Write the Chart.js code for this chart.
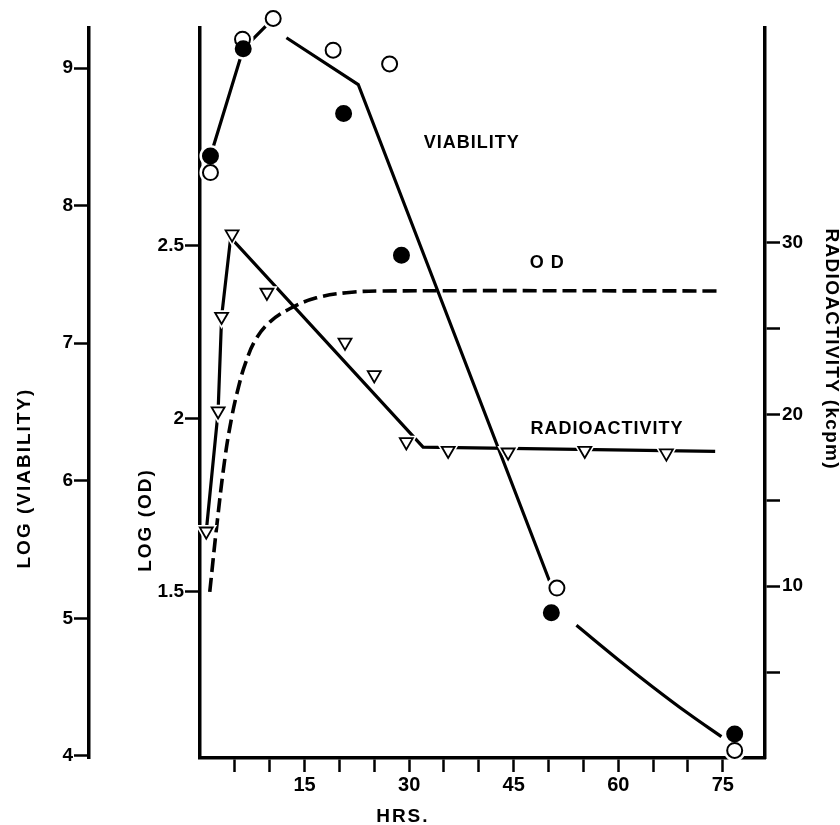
<!DOCTYPE html>
<html>
<head>
<meta charset="utf-8">
<title>Viability, OD and radioactivity vs time</title>
<script src="https://cdn.jsdelivr.net/npm/chart.js@4.4.1/dist/chart.umd.min.js"></script>
<style>
  html, body { margin: 0; padding: 0; background: #fff; }
  canvas { display: block; }
</style>
</head>
<body>
<canvas id="growthChart" width="840" height="825"></canvas>
<script>
// viability (log), two platings per sampling time
const viabFilledHrs = [1.5, 6.2, 20.6, 28.9, 50.4, 76.7];
const viabFilled = [8.36, 9.14, 8.67, 7.64, 5.04, 4.16];
const viabOpenHrs = [1.5, 6.1, 10.5, 19.1, 27.2, 51.2, 76.7];
const viabOpen = [8.24, 9.21, 9.36, 9.13, 9.03, 5.22, 4.04];
// hand drawn viability curve (null = break in the line)
const viabCurveHrs = [1.5, 6.2, 10.5, 11.5, 12.4, 22.7, 50.3];
const viabCurve = [8.36, 9.14, 9.36, null, 9.22, 8.88, 5.25];
const viabTailHrs = [54.0, 60.0, 65.0, 70.0, 74.8];
const viabTail = [4.95, 4.70, 4.50, 4.31, 4.14];

// radioactivity (kcpm)
const radioHrs = [0.9, 2.6, 3.1, 4.6, 9.6, 20.8, 25.0, 29.6, 35.6, 44.2, 55.2, 66.9];
const radioKcpm = [13.2, 20.2, 25.7, 30.5, 27.1, 24.2, 22.3, 18.4, 17.9, 17.8, 17.9, 17.75];
const radioCurveHrs = [0.9, 2.6, 3.1, 4.4, 32.0, 73.9];
const radioCurve = [13.2, 20.2, 25.7, 30.3, 18.1, 17.85];

// log OD curve (dashed)
const odHrs = [1.4, 2.4, 3.6, 4.6, 5.5, 6.5, 8.0, 10.0, 13.0, 16.7, 21.0, 26.0, 74.4];
const odLog = [1.50, 1.69, 1.89, 2.01, 2.09, 2.16, 2.23, 2.28, 2.32, 2.35, 2.365, 2.37, 2.37];

// axis ticks
const hrTicks = [5, 10, 15, 20, 25, 30, 35, 40, 45, 50, 55, 60, 65, 70, 75];
const viabTicks = [4, 5, 6, 7, 8, 9];
const odTicks = [1.5, 2, 2.5];
const radioTicks = [5, 10, 15, 20, 25, 30];

// labels written next to the curves
const curveNotes = [
  { text: 'VIABILITY', hrs: 39.0, axis: 'yV', value: 8.455 },
  { text: 'O D', hrs: 49.8, axis: 'yOD', value: 2.451 },
  { text: 'RADIOACTIVITY', hrs: 58.4, axis: 'yR', value: 19.17 }
];

const pts = (xs, ys) => xs.map((x, i) => ({ x: x, y: ys[i] }));
const INK = '#000';
const FONT = "'Liberation Sans', Arial, Helvetica, sans-serif";
Chart.defaults.font.family = FONT;
Chart.defaults.color = INK;

const setTicks = list => scale => { scale.ticks = list.map(v => ({ value: v })); };

const textLayer = {
  id: 'textLayer',
  afterDraw(chart) {
    const { ctx, scales } = chart;
    ctx.save();
    ctx.fillStyle = INK;
    ctx.textAlign = 'center';
    ctx.textBaseline = 'middle';
    ctx.font = 'bold 18px ' + FONT;
    ctx.letterSpacing = '1px';
    curveNotes.forEach(n => {
      ctx.fillText(n.text, scales.x.getPixelForValue(n.hrs), scales[n.axis].getPixelForValue(n.value));
    });

    ctx.font = 'bold 19px ' + FONT;
    ctx.letterSpacing = '2px';
    // left titles
    ctx.save();
    ctx.translate(scales.yV.left + 25, scales.yV.getPixelForValue(6.02));
    ctx.rotate(-Math.PI / 2);
    ctx.fillText('LOG (VIABILITY)', 0, 0);
    ctx.restore();

    ctx.save();
    ctx.translate(scales.yOD.left + 57, scales.yOD.getPixelForValue(1.708));
    ctx.rotate(-Math.PI / 2);
    ctx.fillText('LOG (OD)', 0, 0);
    ctx.restore();

    // right title
    ctx.letterSpacing = '1.3px';
    ctx.save();
    ctx.translate(scales.yR.left + 66, scales.yR.getPixelForValue(23.8));
    ctx.rotate(Math.PI / 2);
    ctx.fillText('RADIOACTIVITY (kcpm)', 0, 0);
    ctx.restore();

    // x title
    ctx.letterSpacing = '2px';
    ctx.fillText('HRS.', scales.x.getPixelForValue(29.1), scales.x.top + 59);
    ctx.restore();
  }
};

const axisBorder = { display: true, color: INK, width: 3.5 };
const tickGrid = len => ({ drawOnChartArea: false, drawTicks: true, tickLength: len, tickWidth: 2.5, tickColor: INK });
const tickFont = { size: 19, weight: 'bold' };

const ctx = document.getElementById('growthChart').getContext('2d');
const growthChart = new Chart(ctx, {
  type: 'line',
  data: {
    datasets: [
      // markers on top
      {
        label: 'Viability (filled)',
        data: pts(viabFilledHrs, viabFilled),
        yAxisID: 'yV', showLine: false, order: 0, clip: false,
        pointStyle: 'circle', pointRadius: 7.5, pointBorderWidth: 2,
        pointBackgroundColor: INK, pointBorderColor: INK
      },
      {
        label: 'Viability (open)',
        data: pts(viabOpenHrs, viabOpen),
        yAxisID: 'yV', showLine: false, order: 0, clip: false,
        pointStyle: 'circle', pointRadius: 7.5, pointBorderWidth: 2,
        pointBackgroundColor: '#fff', pointBorderColor: INK
      },
      {
        label: 'Radioactivity',
        data: pts(radioHrs, radioKcpm),
        yAxisID: 'yR', showLine: false, order: 0, clip: false,
        pointStyle: 'triangle', pointRotation: 180, pointRadius: 7.5, pointBorderWidth: 1.8,
        pointBackgroundColor: '#fff', pointBorderColor: INK
      },
      // white halos that break the curves around the markers
      {
        label: 'halo V1',
        data: pts(viabFilledHrs, viabFilled),
        yAxisID: 'yV', showLine: false, order: 1, clip: false,
        pointStyle: 'circle', pointRadius: 7.5, pointBorderWidth: 7,
        pointBackgroundColor: '#fff', pointBorderColor: '#fff'
      },
      {
        label: 'halo V2',
        data: pts(viabOpenHrs, viabOpen),
        yAxisID: 'yV', showLine: false, order: 1, clip: false,
        pointStyle: 'circle', pointRadius: 7.5, pointBorderWidth: 7,
        pointBackgroundColor: '#fff', pointBorderColor: '#fff'
      },
      {
        label: 'halo R',
        data: pts(radioHrs, radioKcpm),
        yAxisID: 'yR', showLine: false, order: 1, clip: false,
        pointStyle: 'triangle', pointRotation: 180, pointRadius: 7.5, pointBorderWidth: 5,
        pointBackgroundColor: '#fff', pointBorderColor: '#fff'
      },
      // curves
      {
        label: 'Viability curve',
        data: pts(viabCurveHrs, viabCurve),
        yAxisID: 'yV', order: 2, clip: false, spanGaps: false,
        borderColor: INK, borderWidth: 3.2, pointRadius: 0, tension: 0
      },
      {
        label: 'Viability tail',
        data: pts(viabTailHrs, viabTail),
        yAxisID: 'yV', order: 2, clip: false,
        borderColor: INK, borderWidth: 3.2, pointRadius: 0, tension: 0.4
      },
      {
        label: 'Radioactivity curve',
        data: pts(radioCurveHrs, radioCurve),
        yAxisID: 'yR', order: 2, clip: false,
        borderColor: INK, borderWidth: 3.2, pointRadius: 0, tension: 0
      },
      {
        label: 'OD',
        data: pts(odHrs, odLog),
        yAxisID: 'yOD', order: 2, clip: false,
        borderColor: INK, borderWidth: 3.6, borderDash: [14, 6],
        pointRadius: 0, tension: 0.4
      }
    ]
  },
  options: {
    responsive: false,
    animation: false,
    events: [],
    layout: { padding: { top: 28, left: 0, right: 0, bottom: 0 } },
    plugins: {
      legend: { display: false },
      tooltip: { enabled: false }
    },
    scales: {
      x: {
        type: 'linear', position: 'bottom',
        min: 0, max: 81.05,
        afterBuildTicks: setTicks(hrTicks),
        afterFit: s => { s.height = 67; },
        grid: tickGrid(14),
        border: axisBorder,
        ticks: {
          autoSkip: false, maxRotation: 0, padding: 1,
          font: { size: 20, weight: 'bold' },
          callback: v => (v % 15 === 0 ? String(v) : '')
        }
      },
      yOD: {
        type: 'linear', position: 'left', weight: 0,
        min: 1.02, max: 3.13,
        afterBuildTicks: setTicks(odTicks),
        afterFit: s => { s.width = 111; },
        grid: tickGrid(15),
        border: axisBorder,
        ticks: { padding: 1, font: tickFont, callback: v => String(v) }
      },
      yV: {
        type: 'linear', position: 'left', weight: 1,
        min: 3.985, max: 9.291,
        afterBuildTicks: setTicks(viabTicks),
        afterFit: s => { s.width = 89; },
        grid: tickGrid(15),
        border: axisBorder,
        ticks: { padding: 1, font: tickFont, callback: v => String(v) }
      },
      yR: {
        type: 'linear', position: 'right',
        min: 0, max: 42.5,
        afterBuildTicks: setTicks(radioTicks),
        afterFit: s => { s.width = 75; },
        grid: tickGrid(15),
        border: axisBorder,
        ticks: {
          padding: 2, font: tickFont,
          callback: v => (v % 10 === 0 ? String(v) : '')
        }
      }
    }
  },
  plugins: [textLayer]
});
</script>
</body>
</html>
